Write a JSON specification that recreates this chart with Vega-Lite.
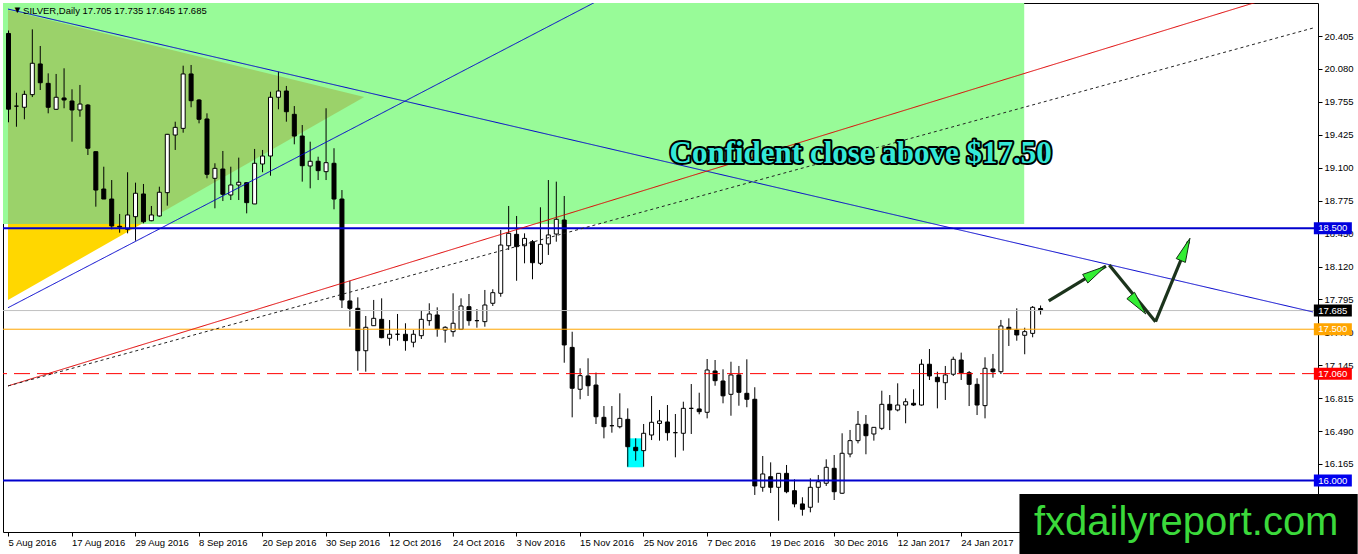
{
  "$schema": "https://vega.github.io/schema/vega-lite/v6.json",
  "width": 1315,
  "height": 529,
  "autosize": {"type": "none"},
  "padding": {"left": 3, "top": 3, "right": 40, "bottom": 22},
  "background": "white",
  "config": {
    "view": {"stroke": "black", "strokeWidth": 1},
    "font": "Liberation Sans",
    "axis": {"labelFont": "Liberation Sans", "labelFontSize": 9.5, "labelColor": "black", "tickColor": "black", "grid": false, "domain": false, "tickSize": 4, "labelOverlap": false, "labelFlush": false},
    "axisX": {"labelAlign": "left", "labelBaseline": "top", "labelPadding": 1},
    "axisY": {"labelPadding": 2, "labelAlign": "left", "labelBaseline": "middle"}
  },
  "resolve": {"scale": {"color": "independent", "stroke": "independent", "fill": "independent", "strokeWidth": "independent", "strokeDash": "independent"}},
  "datasets": {
    "candles": [
      {"i":0,"o":20.43,"h":20.46,"l":19.55,"c":19.68},
      {"i":1,"o":19.71,"h":19.843,"l":19.506,"c":19.71},
      {"i":2,"o":19.699,"h":19.863,"l":19.58,"c":19.827},
      {"i":3,"o":19.824,"h":20.471,"l":19.8,"c":20.135},
      {"i":4,"o":20.128,"h":20.306,"l":19.87,"c":19.942},
      {"i":5,"o":19.936,"h":20.035,"l":19.639,"c":19.699},
      {"i":6,"o":19.679,"h":20.029,"l":19.672,"c":19.798},
      {"i":7,"o":19.791,"h":20.085,"l":19.689,"c":19.771},
      {"i":8,"o":19.761,"h":19.877,"l":19.358,"c":19.672},
      {"i":9,"o":19.672,"h":19.92,"l":19.605,"c":19.731},
      {"i":10,"o":19.721,"h":19.73,"l":19.226,"c":19.293},
      {"i":11,"o":19.259,"h":19.26,"l":18.714,"c":18.879},
      {"i":12,"o":18.889,"h":19.11,"l":18.79,"c":18.79},
      {"i":13,"o":18.79,"h":18.978,"l":18.49,"c":18.523},
      {"i":14,"o":18.52,"h":18.642,"l":18.456,"c":18.512},
      {"i":15,"o":18.49,"h":19.055,"l":18.45,"c":18.632},
      {"i":16,"o":18.615,"h":18.952,"l":18.377,"c":18.847},
      {"i":17,"o":18.84,"h":18.939,"l":18.549,"c":18.565},
      {"i":18,"o":18.575,"h":18.721,"l":18.57,"c":18.632},
      {"i":19,"o":18.622,"h":18.912,"l":18.615,"c":18.857},
      {"i":20,"o":18.853,"h":19.435,"l":18.724,"c":19.431},
      {"i":21,"o":19.424,"h":19.556,"l":19.276,"c":19.5},
      {"i":22,"o":19.49,"h":20.111,"l":19.447,"c":20.029},
      {"i":23,"o":20.029,"h":20.118,"l":19.699,"c":19.764},
      {"i":24,"o":19.771,"h":19.78,"l":19.54,"c":19.58},
      {"i":25,"o":19.583,"h":19.639,"l":18.995,"c":19.035},
      {"i":26,"o":18.995,"h":19.144,"l":18.698,"c":19.094},
      {"i":27,"o":19.087,"h":19.266,"l":18.77,"c":18.837},
      {"i":28,"o":18.83,"h":19.11,"l":18.78,"c":18.929},
      {"i":29,"o":18.929,"h":19.2,"l":18.78,"c":18.956},
      {"i":30,"o":18.952,"h":18.955,"l":18.648,"c":18.754},
      {"i":31,"o":18.741,"h":19.286,"l":18.74,"c":19.144},
      {"i":32,"o":19.137,"h":19.276,"l":19.055,"c":19.216},
      {"i":33,"o":19.216,"h":19.853,"l":19.021,"c":19.798},
      {"i":34,"o":19.798,"h":20.051,"l":19.679,"c":19.86},
      {"i":35,"o":19.86,"h":19.91,"l":19.556,"c":19.655},
      {"i":36,"o":19.629,"h":19.711,"l":19.332,"c":19.414},
      {"i":37,"o":19.414,"h":19.523,"l":18.962,"c":19.12},
      {"i":38,"o":19.117,"h":19.358,"l":18.896,"c":19.164},
      {"i":39,"o":19.164,"h":19.209,"l":18.978,"c":19.071},
      {"i":40,"o":19.061,"h":19.689,"l":18.978,"c":19.15},
      {"i":41,"o":19.144,"h":19.293,"l":18.688,"c":18.79},
      {"i":42,"o":18.79,"h":18.879,"l":17.71,"c":17.79},
      {"i":43,"o":17.78,"h":17.98,"l":17.525,"c":17.707},
      {"i":44,"o":17.707,"h":17.816,"l":17.089,"c":17.287},
      {"i":45,"o":17.287,"h":17.631,"l":17.079,"c":17.519},
      {"i":46,"o":17.535,"h":17.79,"l":17.535,"c":17.608},
      {"i":47,"o":17.598,"h":17.806,"l":17.41,"c":17.416},
      {"i":48,"o":17.41,"h":17.591,"l":17.337,"c":17.45},
      {"i":49,"o":17.45,"h":17.651,"l":17.387,"c":17.45},
      {"i":50,"o":17.45,"h":17.559,"l":17.287,"c":17.387},
      {"i":51,"o":17.371,"h":17.492,"l":17.321,"c":17.45},
      {"i":52,"o":17.436,"h":17.69,"l":17.403,"c":17.598},
      {"i":53,"o":17.585,"h":17.757,"l":17.535,"c":17.651},
      {"i":54,"o":17.641,"h":17.717,"l":17.426,"c":17.502},
      {"i":55,"o":17.492,"h":17.53,"l":17.367,"c":17.519},
      {"i":56,"o":17.476,"h":17.856,"l":17.426,"c":17.559},
      {"i":57,"o":17.499,"h":17.806,"l":17.492,"c":17.73},
      {"i":58,"o":17.723,"h":17.849,"l":17.535,"c":17.585},
      {"i":59,"o":17.585,"h":17.7,"l":17.515,"c":17.585},
      {"i":60,"o":17.575,"h":17.889,"l":17.525,"c":17.74},
      {"i":61,"o":17.757,"h":17.896,"l":17.73,"c":17.862},
      {"i":62,"o":17.856,"h":18.483,"l":17.822,"c":18.334},
      {"i":63,"o":18.327,"h":18.721,"l":18.285,"c":18.45},
      {"i":64,"o":18.44,"h":18.622,"l":17.98,"c":18.318},
      {"i":65,"o":18.327,"h":18.45,"l":18.153,"c":18.4},
      {"i":66,"o":18.367,"h":18.384,"l":17.995,"c":18.159},
      {"i":67,"o":18.153,"h":18.708,"l":18.136,"c":18.341},
      {"i":68,"o":18.345,"h":18.978,"l":18.236,"c":18.434},
      {"i":69,"o":18.443,"h":18.962,"l":18.367,"c":18.589},
      {"i":70,"o":18.582,"h":18.82,"l":17.168,"c":17.344},
      {"i":71,"o":17.32,"h":17.475,"l":16.627,"c":16.915},
      {"i":72,"o":16.905,"h":17.113,"l":16.806,"c":17.04},
      {"i":73,"o":17.037,"h":17.212,"l":16.839,"c":16.94},
      {"i":74,"o":16.947,"h":17.07,"l":16.561,"c":16.633},
      {"i":75,"o":16.627,"h":16.739,"l":16.419,"c":16.534},
      {"i":76,"o":16.544,"h":16.739,"l":16.475,"c":16.544},
      {"i":77,"o":16.534,"h":16.865,"l":16.518,"c":16.617},
      {"i":78,"o":16.607,"h":16.716,"l":16.138,"c":16.336},
      {"i":79,"o":16.33,"h":16.419,"l":16.198,"c":16.297},
      {"i":80,"o":16.297,"h":16.561,"l":16.138,"c":16.469},
      {"i":81,"o":16.452,"h":16.838,"l":16.402,"c":16.578},
      {"i":82,"o":16.567,"h":16.7,"l":16.396,"c":16.591},
      {"i":83,"o":16.581,"h":16.749,"l":16.396,"c":16.475},
      {"i":84,"o":16.475,"h":16.66,"l":16.231,"c":16.475},
      {"i":85,"o":16.469,"h":16.782,"l":16.297,"c":16.716},
      {"i":86,"o":16.716,"h":16.957,"l":16.462,"c":16.716},
      {"i":87,"o":16.71,"h":16.871,"l":16.657,"c":16.683},
      {"i":88,"o":16.677,"h":17.205,"l":16.617,"c":17.096},
      {"i":89,"o":17.086,"h":17.195,"l":16.94,"c":16.99},
      {"i":90,"o":16.987,"h":17.103,"l":16.766,"c":16.84},
      {"i":91,"o":16.855,"h":17.178,"l":16.643,"c":17.047},
      {"i":92,"o":17.047,"h":17.136,"l":16.742,"c":16.875},
      {"i":93,"o":16.865,"h":17.202,"l":16.727,"c":16.806},
      {"i":94,"o":16.806,"h":16.925,"l":15.858,"c":15.947},
      {"i":95,"o":15.934,"h":16.244,"l":15.89,"c":16.066},
      {"i":96,"o":16.039,"h":16.181,"l":15.877,"c":15.934},
      {"i":97,"o":15.934,"h":16.075,"l":15.603,"c":16.072},
      {"i":98,"o":16.072,"h":16.155,"l":15.875,"c":15.89},
      {"i":99,"o":15.9,"h":16.013,"l":15.736,"c":15.769},
      {"i":100,"o":15.769,"h":15.835,"l":15.653,"c":15.716},
      {"i":101,"o":15.736,"h":16.023,"l":15.686,"c":15.934},
      {"i":102,"o":15.934,"h":16.056,"l":15.781,"c":15.989},
      {"i":103,"o":15.974,"h":16.211,"l":15.947,"c":16.132},
      {"i":104,"o":16.122,"h":16.254,"l":15.808,"c":15.89},
      {"i":105,"o":15.875,"h":16.469,"l":15.868,"c":16.271},
      {"i":106,"o":16.264,"h":16.502,"l":16.231,"c":16.396},
      {"i":107,"o":16.396,"h":16.69,"l":16.369,"c":16.558},
      {"i":108,"o":16.558,"h":16.65,"l":16.261,"c":16.445},
      {"i":109,"o":16.462,"h":16.53,"l":16.396,"c":16.528},
      {"i":110,"o":16.518,"h":16.891,"l":16.501,"c":16.756},
      {"i":111,"o":16.756,"h":16.848,"l":16.501,"c":16.7},
      {"i":112,"o":16.7,"h":16.964,"l":16.686,"c":16.749},
      {"i":113,"o":16.749,"h":16.815,"l":16.568,"c":16.782},
      {"i":114,"o":16.766,"h":16.905,"l":16.739,"c":16.749},
      {"i":115,"o":16.749,"h":17.202,"l":16.743,"c":17.153},
      {"i":116,"o":17.153,"h":17.304,"l":16.997,"c":17.037},
      {"i":117,"o":17.024,"h":17.079,"l":16.716,"c":16.98},
      {"i":118,"o":16.97,"h":17.136,"l":16.799,"c":17.047},
      {"i":119,"o":17.054,"h":17.228,"l":17.037,"c":17.202},
      {"i":120,"o":17.195,"h":17.268,"l":16.997,"c":17.069},
      {"i":121,"o":17.069,"h":17.086,"l":16.739,"c":16.954},
      {"i":122,"o":16.954,"h":17.014,"l":16.65,"c":16.749},
      {"i":123,"o":16.743,"h":17.222,"l":16.617,"c":17.113},
      {"i":124,"o":17.106,"h":17.255,"l":17.02,"c":17.079},
      {"i":125,"o":17.079,"h":17.592,"l":17.056,"c":17.532},
      {"i":126,"o":17.519,"h":17.608,"l":17.334,"c":17.499},
      {"i":127,"o":17.492,"h":17.707,"l":17.386,"c":17.443},
      {"i":128,"o":17.44,"h":17.515,"l":17.252,"c":17.476},
      {"i":129,"o":17.459,"h":17.73,"l":17.42,"c":17.717},
      {"i":130,"o":17.705,"h":17.735,"l":17.645,"c":17.685}
    ],
    "olive": [
      {"x":0,"y":20.662,"y2":18.5425},
      {"x":16.8,"y":20.34,"y2":18.5425},
      {"x":44.875,"y":19.801,"y2":19.801}
    ],
    "gold": [
      {"x":0,"y":18.5425,"y2":17.79},
      {"x":16.8,"y":18.5425,"y2":18.5425}
    ],
    "trends": [
      {"name":"down","x":0,"y":20.672},{"name":"down","x":164.375,"y":17.671},
      {"name":"up","x":0,"y":17.713},{"name":"up","x":76,"y":20.824},
      {"name":"red","x":0,"y":16.938},{"name":"red","x":164.375,"y":20.913},
      {"name":"dot","x":0,"y":16.938},{"name":"dot","x":164.375,"y":20.484}
    ],
    "levels": [
      {"name":"res","level":18.5},
      {"name":"bid","level":17.685},
      {"name":"piv","level":17.5},
      {"name":"mid","level":17.06},
      {"name":"sup","level":16.0}
    ],
    "shafts": [
      {"s":"a","k":0,"x":131.09,"y":17.78},{"s":"a","k":1,"x":138.29,"y":18.126},
      {"s":"b","k":0,"x":138.71,"y":18.136},{"s":"b","k":1,"x":144.54,"y":17.575},
      {"s":"c","k":0,"x":144.54,"y":17.575},{"s":"c","k":1,"x":148.7,"y":18.37}
    ],
    "heads": [
      {"h":"a","k":0,"x":138.25,"y":18.124},{"h":"a","k":1,"x":136.01,"y":17.958},{"h":"a","k":2,"x":135.36,"y":18.043},
      {"h":"b","k":0,"x":143.31,"y":17.651},{"h":"b","k":1,"x":140.93,"y":17.8025},{"h":"b","k":2,"x":141.9,"y":17.866},
      {"h":"c","k":0,"x":148.875,"y":18.401},{"h":"c","k":1,"x":148.3,"y":18.162},{"h":"c","k":2,"x":147.15,"y":18.2}
    ]
  },
  "layer": [
    {
      "data": {"values": [{"x1": -1, "x2": 128, "y1": 18.5425, "y2": 21}]},
      "mark": {"type": "rect", "color": "#98fb98", "clip": true},
      "encoding": {
        "x": {"field": "x1", "type": "quantitative", "scale": {"domain": [0, 164.375], "nice": false, "zero": false},
          "axis": {"orient": "bottom", "title": null, "values": [0,8,16,24,32,40,48,56,64,72,80,88,96,104,112,120], "labelExpr": "['5 Aug 2016','17 Aug 2016','29 Aug 2016','8 Sep 2016','20 Sep 2016','30 Sep 2016','12 Oct 2016','24 Oct 2016','3 Nov 2016','15 Nov 2016','25 Nov 2016','7 Dec 2016','19 Dec 2016','30 Dec 2016','12 Jan 2017','24 Jan 2017'][round(datum.value/8)]"}},
        "x2": {"field": "x2"},
        "y": {"field": "y1", "type": "quantitative", "scale": {"domain": [15.491, 20.732], "nice": false, "zero": false},
          "axis": {"orient": "right", "title": null, "values": [20.405,20.08,19.755,19.425,19.1,18.775,18.45,18.12,17.795,17.47,17.145,16.815,16.49,16.165,15.84], "format": ".3f"}},
        "y2": {"field": "y2"}
      }
    },
    {
      "data": {"name": "olive"},
      "mark": {"type": "area", "color": "#9bd26a", "clip": true, "opacity": 1},
      "encoding": {
        "x": {"field": "x", "type": "quantitative", "scale": {"domain": [0, 164.375], "nice": false, "zero": false},
          "axis": {"orient": "bottom", "title": null, "values": [0,8,16,24,32,40,48,56,64,72,80,88,96,104,112,120], "labelExpr": "['5 Aug 2016','17 Aug 2016','29 Aug 2016','8 Sep 2016','20 Sep 2016','30 Sep 2016','12 Oct 2016','24 Oct 2016','3 Nov 2016','15 Nov 2016','25 Nov 2016','7 Dec 2016','19 Dec 2016','30 Dec 2016','12 Jan 2017','24 Jan 2017'][round(datum.value/8)]"}},
        "y": {"field": "y", "type": "quantitative", "scale": {"domain": [15.491, 20.732], "nice": false, "zero": false},
          "axis": {"orient": "right", "title": null, "values": [20.405,20.08,19.755,19.425,19.1,18.775,18.45,18.12,17.795,17.47,17.145,16.815,16.49,16.165,15.84], "format": ".3f"}},
        "y2": {"field": "y2"}
      }
    },
    {
      "data": {"name": "gold"},
      "mark": {"type": "area", "color": "#ffd700", "clip": true, "opacity": 1},
      "encoding": {
        "x": {"field": "x", "type": "quantitative", "scale": {"domain": [0, 164.375], "nice": false, "zero": false},
          "axis": {"orient": "bottom", "title": null, "values": [0,8,16,24,32,40,48,56,64,72,80,88,96,104,112,120], "labelExpr": "['5 Aug 2016','17 Aug 2016','29 Aug 2016','8 Sep 2016','20 Sep 2016','30 Sep 2016','12 Oct 2016','24 Oct 2016','3 Nov 2016','15 Nov 2016','25 Nov 2016','7 Dec 2016','19 Dec 2016','30 Dec 2016','12 Jan 2017','24 Jan 2017'][round(datum.value/8)]"}},
        "y": {"field": "y", "type": "quantitative", "scale": {"domain": [15.491, 20.732], "nice": false, "zero": false},
          "axis": {"orient": "right", "title": null, "values": [20.405,20.08,19.755,19.425,19.1,18.775,18.45,18.12,17.795,17.47,17.145,16.815,16.49,16.165,15.84], "format": ".3f"}},
        "y2": {"field": "y2"}
      }
    },
    {
      "data": {"values": [{"x1": 77.96, "x2": 80.04, "y1": 16.132, "y2": 16.419}]},
      "mark": {"type": "rect", "color": "#00ffff", "clip": true},
      "encoding": {
        "x": {"field": "x1", "type": "quantitative", "scale": {"domain": [0, 164.375], "nice": false, "zero": false},
          "axis": {"orient": "bottom", "title": null, "values": [0,8,16,24,32,40,48,56,64,72,80,88,96,104,112,120], "labelExpr": "['5 Aug 2016','17 Aug 2016','29 Aug 2016','8 Sep 2016','20 Sep 2016','30 Sep 2016','12 Oct 2016','24 Oct 2016','3 Nov 2016','15 Nov 2016','25 Nov 2016','7 Dec 2016','19 Dec 2016','30 Dec 2016','12 Jan 2017','24 Jan 2017'][round(datum.value/8)]"}},
        "x2": {"field": "x2"},
        "y": {"field": "y1", "type": "quantitative", "scale": {"domain": [15.491, 20.732], "nice": false, "zero": false},
          "axis": {"orient": "right", "title": null, "values": [20.405,20.08,19.755,19.425,19.1,18.775,18.45,18.12,17.795,17.47,17.145,16.815,16.49,16.165,15.84], "format": ".3f"}},
        "y2": {"field": "y2"}
      }
    },
    {
      "data": {"name": "candles"},
      "mark": {"type": "rule", "color": "black", "strokeWidth": 1, "xOffset": 0.5, "clip": true},
      "encoding": {
        "x": {"field": "i", "type": "quantitative", "scale": {"domain": [0, 164.375], "nice": false, "zero": false},
          "axis": {"orient": "bottom", "title": null, "values": [0,8,16,24,32,40,48,56,64,72,80,88,96,104,112,120], "labelExpr": "['5 Aug 2016','17 Aug 2016','29 Aug 2016','8 Sep 2016','20 Sep 2016','30 Sep 2016','12 Oct 2016','24 Oct 2016','3 Nov 2016','15 Nov 2016','25 Nov 2016','7 Dec 2016','19 Dec 2016','30 Dec 2016','12 Jan 2017','24 Jan 2017'][round(datum.value/8)]"}},
        "y": {"field": "l", "type": "quantitative", "scale": {"domain": [15.491, 20.732], "nice": false, "zero": false},
          "axis": {"orient": "right", "title": null, "values": [20.405,20.08,19.755,19.425,19.1,18.775,18.45,18.12,17.795,17.47,17.145,16.815,16.49,16.165,15.84], "format": ".3f"}},
        "y2": {"field": "h"}
      }
    },
    {
      "data": {"name": "candles"},
      "mark": {"type": "bar", "width": 4, "stroke": "black", "strokeWidth": 1, "xOffset": 0.5, "clip": true},
      "encoding": {
        "x": {"field": "i", "type": "quantitative", "scale": {"domain": [0, 164.375], "nice": false, "zero": false},
          "axis": {"orient": "bottom", "title": null, "values": [0,8,16,24,32,40,48,56,64,72,80,88,96,104,112,120], "labelExpr": "['5 Aug 2016','17 Aug 2016','29 Aug 2016','8 Sep 2016','20 Sep 2016','30 Sep 2016','12 Oct 2016','24 Oct 2016','3 Nov 2016','15 Nov 2016','25 Nov 2016','7 Dec 2016','19 Dec 2016','30 Dec 2016','12 Jan 2017','24 Jan 2017'][round(datum.value/8)]"}},
        "y": {"field": "o", "type": "quantitative", "scale": {"domain": [15.491, 20.732], "nice": false, "zero": false},
          "axis": {"orient": "right", "title": null, "values": [20.405,20.08,19.755,19.425,19.1,18.775,18.45,18.12,17.795,17.47,17.145,16.815,16.49,16.165,15.84], "format": ".3f"}},
        "y2": {"field": "c"},
        "color": {"condition": {"test": "datum.c > datum.o", "value": "white"}, "value": "black"}
      }
    },
    {
      "data": {"name": "levels"},
      "transform": [{"filter": "datum.name == 'res' || datum.name == 'sup'"}],
      "mark": {"type": "rule", "stroke": "#0000cd", "strokeWidth": 2, "clip": true},
      "encoding": {
        "y": {"field": "level", "type": "quantitative", "scale": {"domain": [15.491, 20.732], "nice": false, "zero": false},
          "axis": {"orient": "right", "title": null, "values": [20.405,20.08,19.755,19.425,19.1,18.775,18.45,18.12,17.795,17.47,17.145,16.815,16.49,16.165,15.84], "format": ".3f"}}
      }
    },
    {
      "data": {"name": "levels"},
      "transform": [{"filter": "datum.name == 'bid' || datum.name == 'piv' || datum.name == 'mid'"}],
      "mark": {"type": "rule", "strokeWidth": 1, "clip": true},
      "encoding": {
        "y": {"field": "level", "type": "quantitative", "scale": {"domain": [15.491, 20.732], "nice": false, "zero": false},
          "axis": {"orient": "right", "title": null, "values": [20.405,20.08,19.755,19.425,19.1,18.775,18.45,18.12,17.795,17.47,17.145,16.815,16.49,16.165,15.84], "format": ".3f"}},
        "stroke": {"field": "name", "type": "nominal", "scale": {"domain": ["bid","piv","mid"], "range": ["#c0c0c0","#ffa500","#ff0000"]}, "legend": null},
        "strokeDash": {"field": "name", "type": "nominal", "scale": {"domain": ["bid","piv","mid"], "range": [[1,0],[1,0],[16,7]]}, "legend": null}
      }
    },
    {
      "data": {"name": "trends"},
      "mark": {"type": "line", "strokeWidth": 1, "clip": true},
      "encoding": {
        "x": {"field": "x", "type": "quantitative", "scale": {"domain": [0, 164.375], "nice": false, "zero": false},
          "axis": {"orient": "bottom", "title": null, "values": [0,8,16,24,32,40,48,56,64,72,80,88,96,104,112,120], "labelExpr": "['5 Aug 2016','17 Aug 2016','29 Aug 2016','8 Sep 2016','20 Sep 2016','30 Sep 2016','12 Oct 2016','24 Oct 2016','3 Nov 2016','15 Nov 2016','25 Nov 2016','7 Dec 2016','19 Dec 2016','30 Dec 2016','12 Jan 2017','24 Jan 2017'][round(datum.value/8)]"}},
        "y": {"field": "y", "type": "quantitative", "scale": {"domain": [15.491, 20.732], "nice": false, "zero": false},
          "axis": {"orient": "right", "title": null, "values": [20.405,20.08,19.755,19.425,19.1,18.775,18.45,18.12,17.795,17.47,17.145,16.815,16.49,16.165,15.84], "format": ".3f"}},
        "detail": {"field": "name"},
        "stroke": {"field": "name", "type": "nominal", "scale": {"domain": ["down","up","red","dot"], "range": ["#0000cd","#0000cd","#e00000","#222222"]}, "legend": null},
        "strokeDash": {"field": "name", "type": "nominal", "scale": {"domain": ["down","up","red","dot"], "range": [[1,0],[1,0],[1,0],[3,3]]}, "legend": null}
      }
    },
    {
      "data": {"values": [{"t": "Confident close above $17.50", "x": 107.4, "y": 19.147}]},
      "mark": {"type": "text", "font": "Liberation Serif", "fontWeight": "bold", "fontSize": 31, "align": "center", "baseline": "alphabetic", "stroke": "black", "strokeWidth": 4, "strokeJoin": "round", "fill": "black"},
      "encoding": {
        "x": {"field": "x", "type": "quantitative", "scale": {"domain": [0, 164.375], "nice": false, "zero": false},
          "axis": {"orient": "bottom", "title": null, "values": [0,8,16,24,32,40,48,56,64,72,80,88,96,104,112,120], "labelExpr": "['5 Aug 2016','17 Aug 2016','29 Aug 2016','8 Sep 2016','20 Sep 2016','30 Sep 2016','12 Oct 2016','24 Oct 2016','3 Nov 2016','15 Nov 2016','25 Nov 2016','7 Dec 2016','19 Dec 2016','30 Dec 2016','12 Jan 2017','24 Jan 2017'][round(datum.value/8)]"}},
        "y": {"field": "y", "type": "quantitative", "scale": {"domain": [15.491, 20.732], "nice": false, "zero": false},
          "axis": {"orient": "right", "title": null, "values": [20.405,20.08,19.755,19.425,19.1,18.775,18.45,18.12,17.795,17.47,17.145,16.815,16.49,16.165,15.84], "format": ".3f"}},
        "text": {"field": "t"}
      }
    },
    {
      "data": {"values": [{"t": "Confident close above $17.50", "x": 107.4, "y": 19.147}]},
      "mark": {"type": "text", "font": "Liberation Serif", "fontWeight": "bold", "fontSize": 31, "align": "center", "baseline": "alphabetic", "fill": "#33e8d8"},
      "encoding": {
        "x": {"field": "x", "type": "quantitative", "scale": {"domain": [0, 164.375], "nice": false, "zero": false},
          "axis": {"orient": "bottom", "title": null, "values": [0,8,16,24,32,40,48,56,64,72,80,88,96,104,112,120], "labelExpr": "['5 Aug 2016','17 Aug 2016','29 Aug 2016','8 Sep 2016','20 Sep 2016','30 Sep 2016','12 Oct 2016','24 Oct 2016','3 Nov 2016','15 Nov 2016','25 Nov 2016','7 Dec 2016','19 Dec 2016','30 Dec 2016','12 Jan 2017','24 Jan 2017'][round(datum.value/8)]"}},
        "y": {"field": "y", "type": "quantitative", "scale": {"domain": [15.491, 20.732], "nice": false, "zero": false},
          "axis": {"orient": "right", "title": null, "values": [20.405,20.08,19.755,19.425,19.1,18.775,18.45,18.12,17.795,17.47,17.145,16.815,16.49,16.165,15.84], "format": ".3f"}},
        "text": {"field": "t"}
      }
    },
    {
      "data": {"name": "shafts"},
      "mark": {"type": "line", "stroke": "#1b331b", "strokeWidth": 3.2, "strokeCap": "butt", "clip": true},
      "encoding": {
        "x": {"field": "x", "type": "quantitative", "scale": {"domain": [0, 164.375], "nice": false, "zero": false},
          "axis": {"orient": "bottom", "title": null, "values": [0,8,16,24,32,40,48,56,64,72,80,88,96,104,112,120], "labelExpr": "['5 Aug 2016','17 Aug 2016','29 Aug 2016','8 Sep 2016','20 Sep 2016','30 Sep 2016','12 Oct 2016','24 Oct 2016','3 Nov 2016','15 Nov 2016','25 Nov 2016','7 Dec 2016','19 Dec 2016','30 Dec 2016','12 Jan 2017','24 Jan 2017'][round(datum.value/8)]"}},
        "y": {"field": "y", "type": "quantitative", "scale": {"domain": [15.491, 20.732], "nice": false, "zero": false},
          "axis": {"orient": "right", "title": null, "values": [20.405,20.08,19.755,19.425,19.1,18.775,18.45,18.12,17.795,17.47,17.145,16.815,16.49,16.165,15.84], "format": ".3f"}},
        "detail": {"field": "s"},
        "order": {"field": "k"}
      }
    },
    {
      "data": {"name": "heads"},
      "mark": {"type": "line", "interpolate": "linear-closed", "fill": "#33ee33", "stroke": "#143014", "strokeWidth": 1, "clip": true},
      "encoding": {
        "x": {"field": "x", "type": "quantitative", "scale": {"domain": [0, 164.375], "nice": false, "zero": false},
          "axis": {"orient": "bottom", "title": null, "values": [0,8,16,24,32,40,48,56,64,72,80,88,96,104,112,120], "labelExpr": "['5 Aug 2016','17 Aug 2016','29 Aug 2016','8 Sep 2016','20 Sep 2016','30 Sep 2016','12 Oct 2016','24 Oct 2016','3 Nov 2016','15 Nov 2016','25 Nov 2016','7 Dec 2016','19 Dec 2016','30 Dec 2016','12 Jan 2017','24 Jan 2017'][round(datum.value/8)]"}},
        "y": {"field": "y", "type": "quantitative", "scale": {"domain": [15.491, 20.732], "nice": false, "zero": false},
          "axis": {"orient": "right", "title": null, "values": [20.405,20.08,19.755,19.425,19.1,18.775,18.45,18.12,17.795,17.47,17.145,16.815,16.49,16.165,15.84], "format": ".3f"}},
        "detail": {"field": "h"},
        "order": {"field": "k"}
      }
    },
    {
      "data": {"values": [{"t": "SILVER,Daily  17.705 17.735 17.645 17.685", "x": 1.9, "y": 20.623}, {"t": "▼", "x": 0.6, "y": 20.628}]},
      "mark": {"type": "text", "fontSize": 9.5, "align": "left", "baseline": "alphabetic", "color": "black"},
      "encoding": {
        "x": {"field": "x", "type": "quantitative", "scale": {"domain": [0, 164.375], "nice": false, "zero": false},
          "axis": {"orient": "bottom", "title": null, "values": [0,8,16,24,32,40,48,56,64,72,80,88,96,104,112,120], "labelExpr": "['5 Aug 2016','17 Aug 2016','29 Aug 2016','8 Sep 2016','20 Sep 2016','30 Sep 2016','12 Oct 2016','24 Oct 2016','3 Nov 2016','15 Nov 2016','25 Nov 2016','7 Dec 2016','19 Dec 2016','30 Dec 2016','12 Jan 2017','24 Jan 2017'][round(datum.value/8)]"}},
        "y": {"field": "y", "type": "quantitative", "scale": {"domain": [15.491, 20.732], "nice": false, "zero": false},
          "axis": {"orient": "right", "title": null, "values": [20.405,20.08,19.755,19.425,19.1,18.775,18.45,18.12,17.795,17.47,17.145,16.815,16.49,16.165,15.84], "format": ".3f"}},
        "text": {"field": "t"}
      }
    },
    {
      "data": {"name": "levels"},
      "mark": {"type": "tick", "orient": "horizontal", "size": 38, "thickness": 12, "clip": false, "opacity": 1},
      "encoding": {
        "x": {"datum": 166.875, "type": "quantitative", "scale": {"domain": [0, 164.375], "nice": false, "zero": false},
          "axis": {"orient": "bottom", "title": null, "values": [0,8,16,24,32,40,48,56,64,72,80,88,96,104,112,120], "labelExpr": "['5 Aug 2016','17 Aug 2016','29 Aug 2016','8 Sep 2016','20 Sep 2016','30 Sep 2016','12 Oct 2016','24 Oct 2016','3 Nov 2016','15 Nov 2016','25 Nov 2016','7 Dec 2016','19 Dec 2016','30 Dec 2016','12 Jan 2017','24 Jan 2017'][round(datum.value/8)]"}},
        "y": {"field": "level", "type": "quantitative", "scale": {"domain": [15.491, 20.732], "nice": false, "zero": false},
          "axis": {"orient": "right", "title": null, "values": [20.405,20.08,19.755,19.425,19.1,18.775,18.45,18.12,17.795,17.47,17.145,16.815,16.49,16.165,15.84], "format": ".3f"}},
        "color": {"field": "name", "type": "nominal", "scale": {"domain": ["res","bid","piv","mid","sup"], "range": ["#0000dd","#000000","#ffa500","#ff0000","#0000ee"]}, "legend": null}
      }
    },
    {
      "data": {"name": "levels"},
      "mark": {"type": "text", "fontSize": 9.5, "align": "center", "baseline": "middle", "color": "white", "clip": false},
      "encoding": {
        "x": {"datum": 166.875, "type": "quantitative", "scale": {"domain": [0, 164.375], "nice": false, "zero": false},
          "axis": {"orient": "bottom", "title": null, "values": [0,8,16,24,32,40,48,56,64,72,80,88,96,104,112,120], "labelExpr": "['5 Aug 2016','17 Aug 2016','29 Aug 2016','8 Sep 2016','20 Sep 2016','30 Sep 2016','12 Oct 2016','24 Oct 2016','3 Nov 2016','15 Nov 2016','25 Nov 2016','7 Dec 2016','19 Dec 2016','30 Dec 2016','12 Jan 2017','24 Jan 2017'][round(datum.value/8)]"}},
        "y": {"field": "level", "type": "quantitative", "scale": {"domain": [15.491, 20.732], "nice": false, "zero": false},
          "axis": {"orient": "right", "title": null, "values": [20.405,20.08,19.755,19.425,19.1,18.775,18.45,18.12,17.795,17.47,17.145,16.815,16.49,16.165,15.84], "format": ".3f"}},
        "text": {"field": "level", "format": ".3f"}
      }
    },
    {
      "data": {"values": [{"x1": 127.4, "x2": 170, "y1": 15.868, "y2": 15.2}]},
      "mark": {"type": "rect", "color": "black", "clip": false},
      "encoding": {
        "x": {"field": "x1", "type": "quantitative", "scale": {"domain": [0, 164.375], "nice": false, "zero": false},
          "axis": {"orient": "bottom", "title": null, "values": [0,8,16,24,32,40,48,56,64,72,80,88,96,104,112,120], "labelExpr": "['5 Aug 2016','17 Aug 2016','29 Aug 2016','8 Sep 2016','20 Sep 2016','30 Sep 2016','12 Oct 2016','24 Oct 2016','3 Nov 2016','15 Nov 2016','25 Nov 2016','7 Dec 2016','19 Dec 2016','30 Dec 2016','12 Jan 2017','24 Jan 2017'][round(datum.value/8)]"}},
        "x2": {"field": "x2"},
        "y": {"field": "y1", "type": "quantitative", "scale": {"domain": [15.491, 20.732], "nice": false, "zero": false},
          "axis": {"orient": "right", "title": null, "values": [20.405,20.08,19.755,19.425,19.1,18.775,18.45,18.12,17.795,17.47,17.145,16.815,16.49,16.165,15.84], "format": ".3f"}},
        "y2": {"field": "y2"}
      }
    },
    {
      "data": {"values": [{"t": "fxdailyreport.com", "x": 148.4, "y": 15.461}]},
      "mark": {"type": "text", "fontSize": 40, "align": "center", "baseline": "alphabetic", "color": "#3bd93b", "font": "Liberation Sans", "clip": false},
      "encoding": {
        "x": {"field": "x", "type": "quantitative", "scale": {"domain": [0, 164.375], "nice": false, "zero": false},
          "axis": {"orient": "bottom", "title": null, "values": [0,8,16,24,32,40,48,56,64,72,80,88,96,104,112,120], "labelExpr": "['5 Aug 2016','17 Aug 2016','29 Aug 2016','8 Sep 2016','20 Sep 2016','30 Sep 2016','12 Oct 2016','24 Oct 2016','3 Nov 2016','15 Nov 2016','25 Nov 2016','7 Dec 2016','19 Dec 2016','30 Dec 2016','12 Jan 2017','24 Jan 2017'][round(datum.value/8)]"}},
        "y": {"field": "y", "type": "quantitative", "scale": {"domain": [15.491, 20.732], "nice": false, "zero": false},
          "axis": {"orient": "right", "title": null, "values": [20.405,20.08,19.755,19.425,19.1,18.775,18.45,18.12,17.795,17.47,17.145,16.815,16.49,16.165,15.84], "format": ".3f"}},
        "text": {"field": "t"}
      }
    }
  ]
}
